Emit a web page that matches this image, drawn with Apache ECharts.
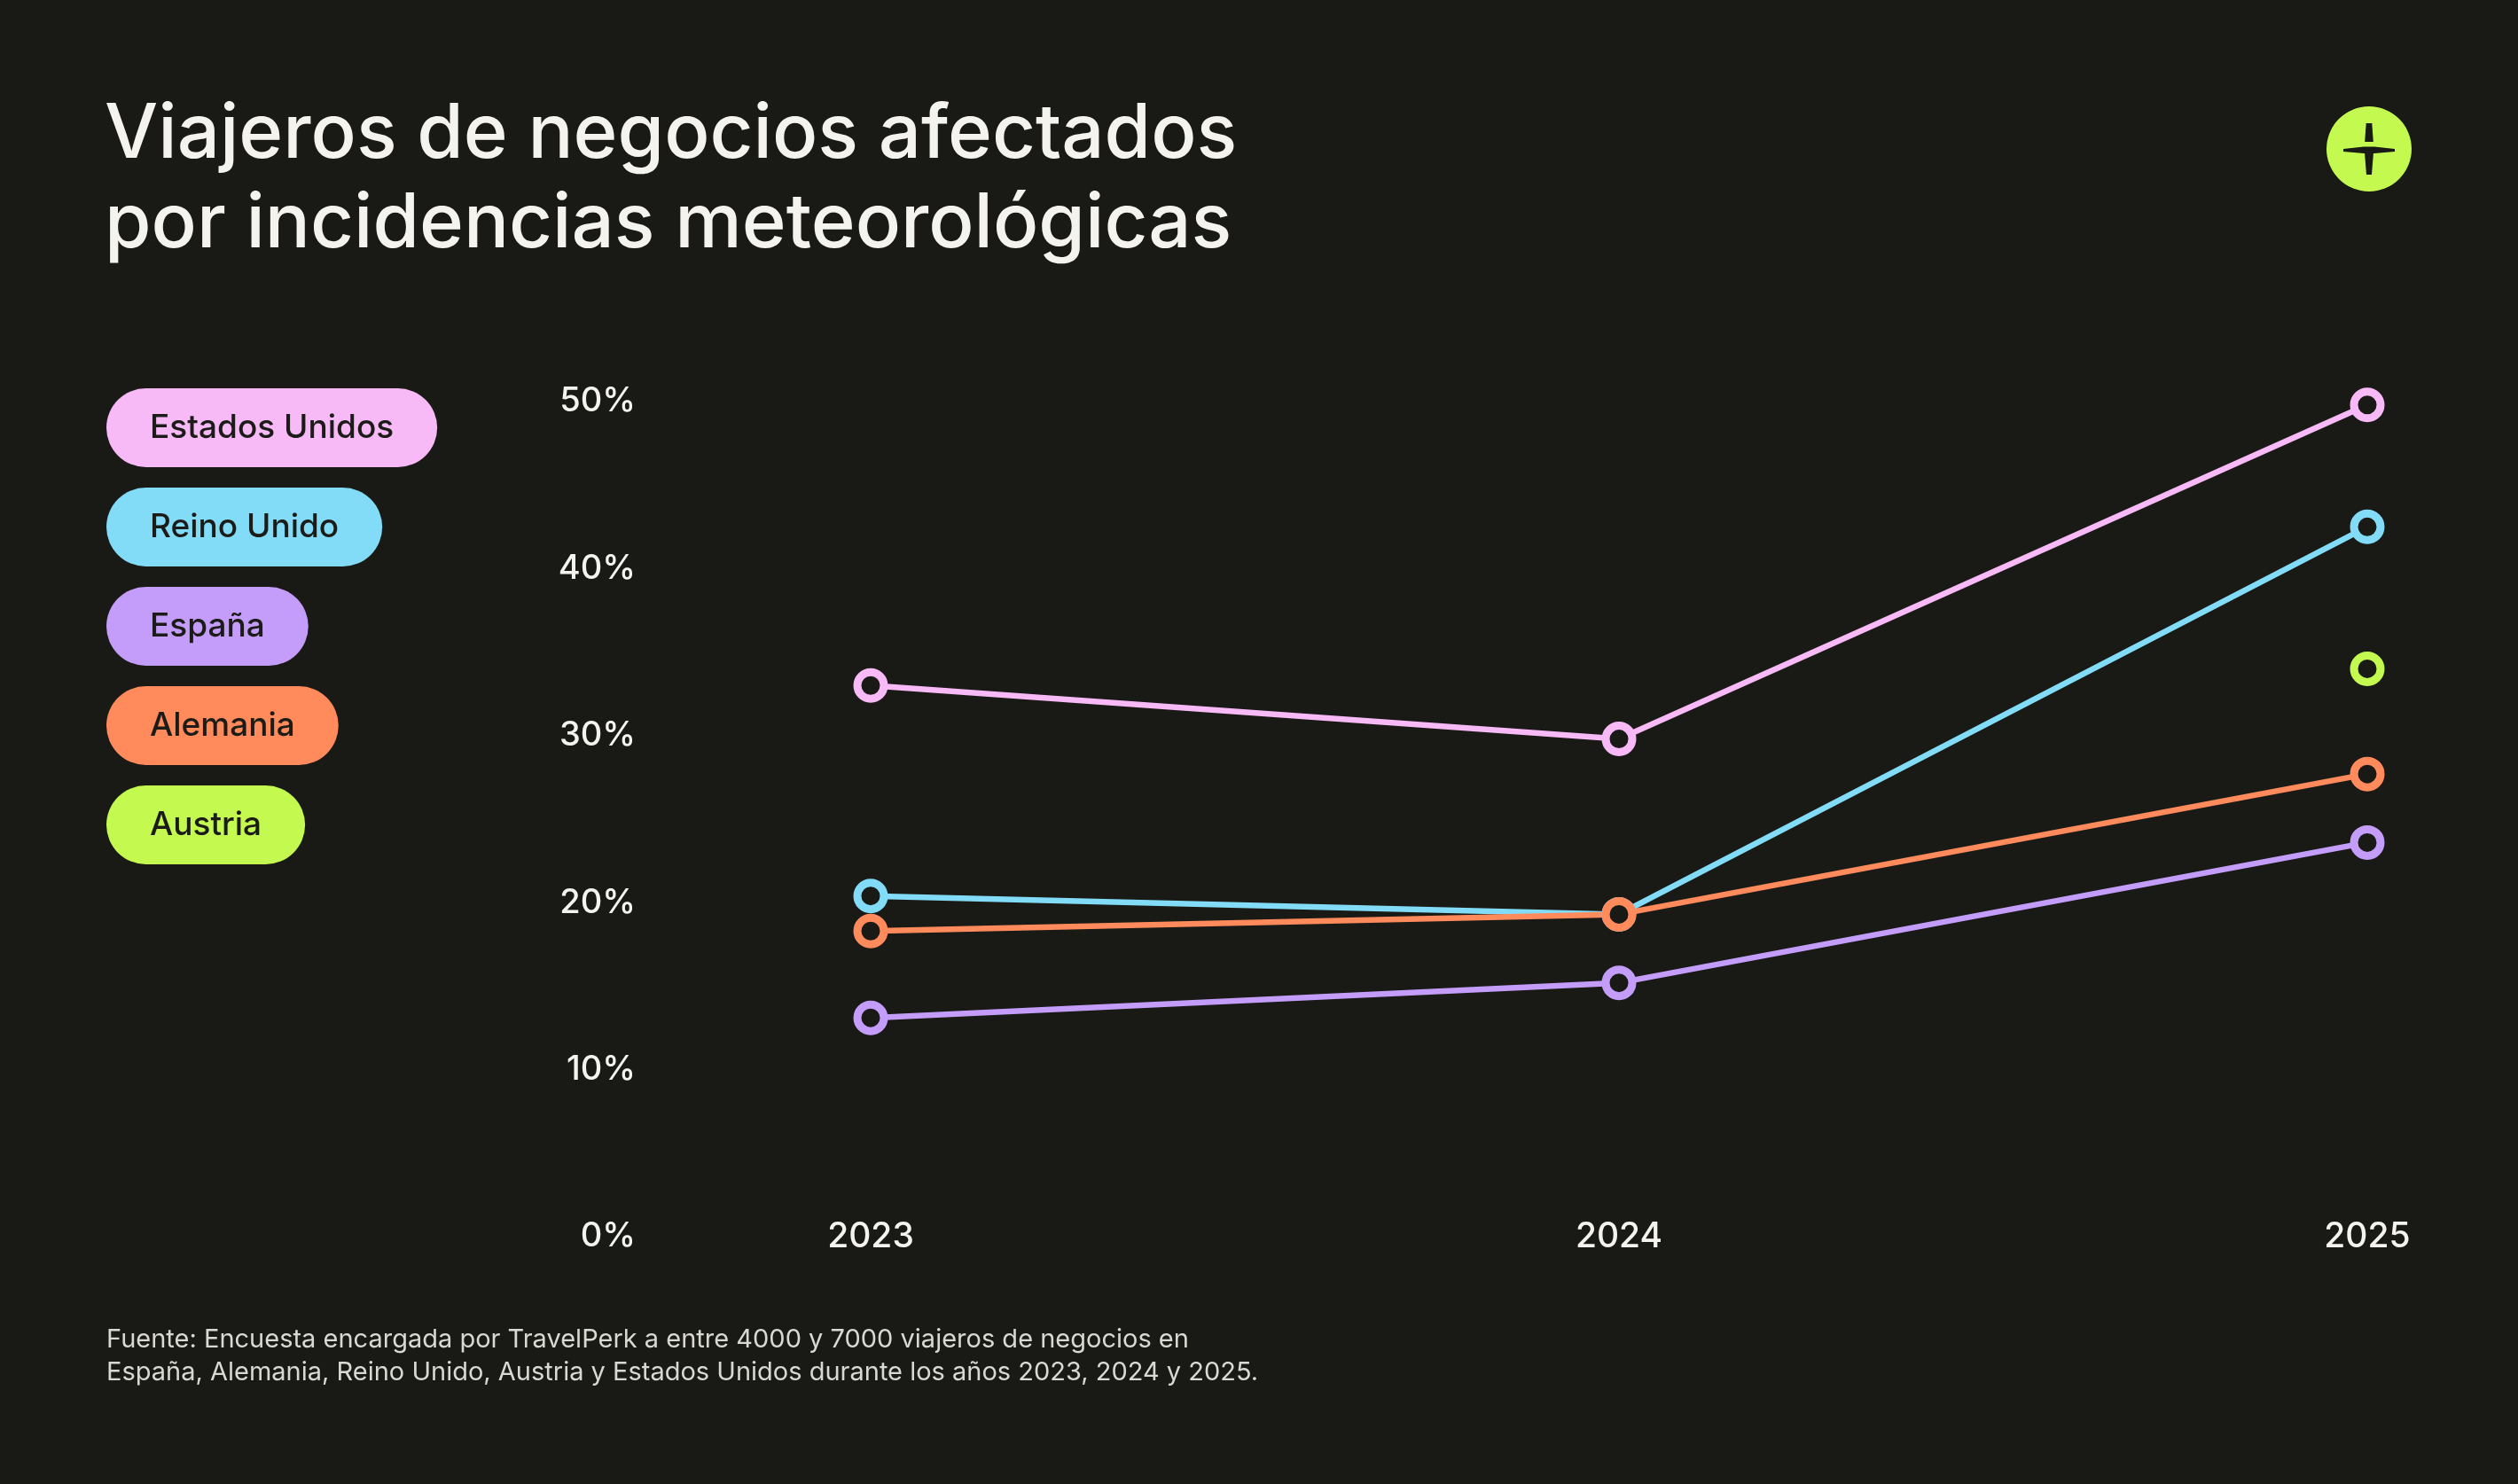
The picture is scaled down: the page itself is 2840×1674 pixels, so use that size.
<!DOCTYPE html>
<html>
<head>
<meta charset="utf-8">
<script src="https://cdn.jsdelivr.net/npm/echarts@6/dist/echarts.min.js"></script>
<style>
  html, body { margin: 0; padding: 0; background: #191915; }
  #chart { width: 2840px; height: 1674px; }
</style>
</head>
<body>
<div id="chart"></div>
<script>
const years = ['2023', '2024', '2025'];
const seriesNames = ['Estados Unidos', 'Reino Unido', 'España', 'Alemania', 'Austria'];
const estadosUnidos = [33, 29.8, 49.8];
const reinoUnido = [20.4, 19.3, 42.5];
const espana = [13.1, 15.2, 23.6];
const alemania = [18.3, 19.3, 27.7];
const austria = [null, null, 34];
const yTicks = [0, 10, 20, 30, 40, 50];
const colors = ['#F8B9F7', '#82DCF7', '#C49DFA', '#FF8A5B', '#C4FA50'];

const titleText = 'Viajeros de negocios afectados\npor incidencias meteorológicas';
const sourceText = 'Fuente: Encuesta encargada por TravelPerk a entre 4000 y 7000 viajeros de negocios en\nEspaña, Alemania, Reino Unido, Austria y Estados Unidos durante los años 2023, 2024 y 2025.';

const BG = '#191915';
const seriesData = [estadosUnidos, reinoUnido, espana, alemania, austria];

const chart = echarts.init(document.getElementById('chart'), null, { renderer: 'canvas' });

const cx = 2672, cy = 168;
function rel(pts) { return pts.map(p => [cx + p[0], cy + p[1]]); }

chart.setOption({
  backgroundColor: BG,
  animation: false,
  title: [
    {
      text: titleText,
      left: 113, top: 97,
      textStyle: { color: '#F4F3EE', fontFamily: 'Inter', fontWeight: 500, fontSize: 85, lineHeight: 101 }
    },
    {
      text: sourceText,
      left: 115, top: 1488,
      textStyle: { color: '#D9D8D2', fontFamily: 'Inter', fontWeight: 400, fontSize: 29, lineHeight: 37 }
    }
  ],
  legend: {
    orient: 'vertical',
    left: 110, top: 433,
    itemGap: 23,
    icon: 'none',
    itemWidth: 0, itemHeight: 0,
    selectedMode: false,
    data: seriesNames.map((n, i) => ({
      name: n,
      textStyle: { backgroundColor: colors[i] }
    })),
    textStyle: {
      color: '#1B1B18', fontFamily: 'Inter', fontWeight: 500, fontSize: 37,
      lineHeight: 39, padding: [25, 49, 25, 49], borderRadius: 45
    }
  },
  grid: { left: 982, right: 170, top: 453, bottom: 279, containLabel: false },
  xAxis: {
    type: 'category', data: years, boundaryGap: false,
    axisLine: { show: false }, axisTick: { show: false }, splitLine: { show: false },
    axisLabel: {
      color: '#F4F3EE', fontFamily: 'Inter', fontWeight: 500, fontSize: 39,
      margin: 0, verticalAlign: 'middle'
    }
  },
  yAxis: {
    type: 'value', min: yTicks[0], max: yTicks[yTicks.length - 1], interval: 10,
    axisLine: { show: false }, axisTick: { show: false }, splitLine: { show: false },
    axisLabel: {
      color: '#F4F3EE', fontFamily: 'Inter', fontWeight: 500, fontSize: 38,
      margin: 265, formatter: v => v + '%'
    }
  },
  series: seriesNames.map((n, i) => ({
    name: n, type: 'line', data: seriesData[i],
    color: colors[i],
    symbol: 'circle', symbolSize: 30, showSymbol: true,
    lineStyle: { width: 6.5, color: colors[i] },
    itemStyle: { color: BG, borderColor: colors[i], borderWidth: 9 },
    clip: false,
    emphasis: { disabled: true }
  })),
  graphic: [
    { type: 'circle', shape: { cx: cx, cy: cy, r: 48 }, style: { fill: '#C4FA50' } },
    { type: 'polygon', shape: { points: rel([[-3.3, -29], [3.3, -29], [4.8, -8], [-4.8, -8]]) }, style: { fill: BG } },
    { type: 'polygon', shape: { points: rel([[-29, 0], [-6, -2.5], [6, -2.5], [29, 0], [29, 3], [6, 5], [-6, 5], [-29, 3]]) }, style: { fill: BG } },
    { type: 'polygon', shape: { points: rel([[-5, 4], [5, 4], [3, 29], [-3, 29]]) }, style: { fill: BG } }
  ]
});
</script>
</body>
</html>
